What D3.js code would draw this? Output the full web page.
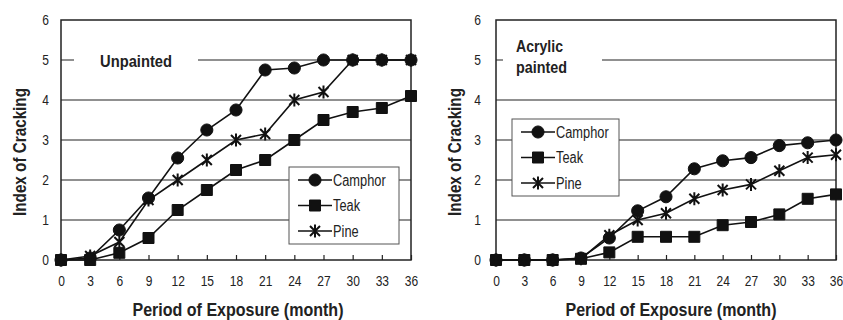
<!DOCTYPE html>
<html>
<head>
<meta charset="utf-8">
<script src="https://cdn.jsdelivr.net/npm/d3@7"></script>
<style>
  body { margin: 0; background: #fff; }
  svg text { font-family: "Liberation Sans", Arial, sans-serif; fill: #222; }
</style>
</head>
<body>
<svg id="chart" width="843" height="320"></svg>
<script>
// months on x axis
const months = [0, 3, 6, 9, 12, 15, 18, 21, 24, 27, 30, 33, 36];
const yTicks = [0, 1, 2, 3, 4, 5, 6];
const seriesNames = ["Camphor", "Teak", "Pine"];

// unpainted panel
const unpaintedCamphor = [0, 0.05, 0.75, 1.55, 2.55, 3.25, 3.75, 4.75, 4.8, 5, 5, 5, 5];
const unpaintedTeak    = [0, 0, 0.18, 0.55, 1.25, 1.75, 2.25, 2.5, 3.0, 3.5, 3.7, 3.8, 4.1];
const unpaintedPine    = [0, 0.1, 0.45, 1.5, 2.0, 2.5, 3.0, 3.15, 4.0, 4.2, 5, 5, 5];

// acrylic painted panel
const acrylicCamphor = [0, 0, 0, 0.05, 0.55, 1.23, 1.58, 2.28, 2.48, 2.56, 2.86, 2.93, 3.0];
const acrylicTeak    = [0, 0, 0, 0.03, 0.19, 0.58, 0.58, 0.58, 0.87, 0.95, 1.14, 1.53, 1.64];
const acrylicPine    = [0, 0, 0, 0.03, 0.62, 1.0, 1.17, 1.53, 1.75, 1.89, 2.23, 2.56, 2.63];

const svg = d3.select("#chart");

// squeeze text horizontally, the original uses a narrow font
function narrow(sel, k) {
  sel.each(function () {
    const w = this.getComputedTextLength();
    this.setAttribute("textLength", w * k);
    this.setAttribute("lengthAdjust", "spacingAndGlyphs");
  });
}

function markerPath(type) {
  if (type === "Camphor") return d3.symbol().type(d3.symbolCircle).size(115)();
  if (type === "Teak") return "M-5.5,-5.5H5.5V5.5H-5.5Z";
  // star: X plus vertical stroke
  return "M-5,-5L5,5M-5,5L5,-5M0,-6.5V6.5";
}

function drawPanel(cfg) {
  const x = d3.scaleLinear().domain([0, 36]).range([cfg.x0, cfg.x1]);
  const y = d3.scaleLinear().domain([0, 6]).range([260, 20]);
  const g = svg.append("g");

  // gridlines
  g.append("g").selectAll("line")
    .data(yTicks.filter(d => d > 0 && d < 6))
    .join("line")
    .attr("x1", cfg.x0).attr("x2", cfg.x1)
    .attr("y1", d => y(d)).attr("y2", d => y(d))
    .attr("stroke", "#222").attr("stroke-width", 1.2);

  // label box hides the y=5 gridline
  g.append("rect")
    .attr("x", cfg.labelBox[0]).attr("y", y(5) - 4)
    .attr("width", cfg.labelBox[1] - cfg.labelBox[0]).attr("height", 8)
    .attr("fill", "#fff");
  cfg.label.forEach((t, i) => {
    g.append("text")
      .attr("x", cfg.labelX).attr("y", cfg.labelY + i * 21)
      .attr("font-size", 17).attr("font-weight", "bold")
      .attr("textLength", cfg.labelW[i]).attr("lengthAdjust", "spacingAndGlyphs")
      .text(t);
  });

  // axes
  const xAxis = d3.axisBottom(x).tickValues(months).tickSize(-5).tickPadding(15);
  const ax = g.append("g").attr("transform", `translate(0,260)`).call(xAxis);
  ax.select(".domain").remove();
  ax.selectAll("line").attr("stroke", "#222").attr("stroke-width", 1.2);
  ax.selectAll("text").attr("font-size", 15).attr("fill", "#222").style("font-family", "Liberation Sans, Arial, sans-serif");
  narrow(ax.selectAll("text"), 0.8);

  const yAxis = d3.axisLeft(y).tickValues(yTicks).tickFormat(d3.format("d")).tickSize(0).tickPadding(cfg.yPad);
  const ay = g.append("g").attr("transform", `translate(${cfg.x0},0)`).call(yAxis);
  ay.select(".domain").remove();
  ay.selectAll("text").attr("font-size", 15).attr("fill", "#222").style("font-family", "Liberation Sans, Arial, sans-serif");
  narrow(ay.selectAll("text"), 0.8);

  g.append("rect")
    .attr("x", cfg.x0).attr("y", 20)
    .attr("width", cfg.x1 - cfg.x0).attr("height", 240)
    .attr("fill", "none").attr("stroke", "#222").attr("stroke-width", 1.5);

  // series
  const line = d3.line().x((d, i) => x(months[i])).y(d => y(d));
  cfg.series.forEach((vals, si) => {
    const name = seriesNames[si];
    g.append("path").datum(vals)
      .attr("d", line).attr("fill", "none")
      .attr("stroke", "#111").attr("stroke-width", 1.6);
    g.append("g").selectAll("path")
      .data(vals).join("path")
      .attr("transform", (d, i) => `translate(${x(months[i])},${y(d)})`)
      .attr("d", markerPath(name))
      .attr("fill", name === "Pine" ? "none" : "#111")
      .attr("stroke", "#111").attr("stroke-width", name === "Pine" ? 2 : 1);
  });

  // legend
  const lg = g.append("g").attr("transform", `translate(${cfg.legend[0]},${cfg.legend[1]})`);
  lg.append("rect").attr("width", cfg.legend[2]).attr("height", 77)
    .attr("fill", "#fff").attr("stroke", "#555").attr("stroke-width", 1);
  seriesNames.forEach((name, i) => {
    const yy = 13 + i * 25.5;
    lg.append("line").attr("x1", 9).attr("x2", 43).attr("y1", yy).attr("y2", yy)
      .attr("stroke", "#111").attr("stroke-width", 1.6);
    lg.append("path").attr("transform", `translate(26,${yy})`)
      .attr("d", markerPath(name))
      .attr("fill", name === "Pine" ? "none" : "#111")
      .attr("stroke", "#111").attr("stroke-width", name === "Pine" ? 2 : 1);
    const t = lg.append("text").attr("x", 44).attr("y", yy).attr("dy", "0.36em")
      .attr("font-size", 16).text(name);
    narrow(t, 0.8);
  });

  // axis titles
  g.append("text")
    .attr("x", cfg.xTitleX).attr("y", 316)
    .attr("text-anchor", "middle")
    .attr("font-size", 18).attr("font-weight", "bold")
    .attr("textLength", 211).attr("lengthAdjust", "spacingAndGlyphs")
    .text("Period of Exposure (month)");
  g.append("text")
    .attr("transform", `translate(${cfg.yTitleX},${152}) rotate(-90)`)
    .attr("text-anchor", "middle")
    .attr("font-size", 18).attr("font-weight", "bold")
    .attr("textLength", 128).attr("lengthAdjust", "spacingAndGlyphs")
    .text("Index of Cracking");
}

drawPanel({
  x0: 61, x1: 411, yPad: 12, yTitleX: 26, xTitleX: 238,
  series: [unpaintedCamphor, unpaintedTeak, unpaintedPine],
  label: ["Unpainted"], labelW: [72], labelX: 100, labelY: 67, labelBox: [74, 198],
  legend: [289, 167, 110]
});

drawPanel({
  x0: 496, x1: 836, yPad: 15, yTitleX: 461, xTitleX: 671,
  series: [acrylicCamphor, acrylicTeak, acrylicPine],
  label: ["Acrylic", "painted"], labelW: [47, 51], labelX: 516, labelY: 52, labelBox: [503, 602],
  legend: [512, 119, 107]
});
</script>
</body>
</html>
